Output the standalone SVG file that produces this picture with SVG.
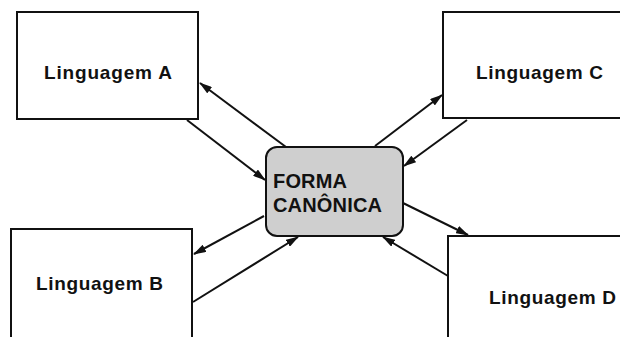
<svg xmlns="http://www.w3.org/2000/svg" width="620" height="337" viewBox="0 0 620 337">
  <style>
    .box { fill: #ffffff; stroke: #111111; stroke-width: 2; }
    .hub { fill: #cfcfcf; stroke: #111111; stroke-width: 2; }
    .lbl { font-family: "Liberation Sans", Arial, sans-serif; font-weight: bold; font-size: 19px; fill: #111111; }
    .hubtxt { font-family: "Liberation Sans", Arial, sans-serif; font-weight: bold; font-size: 20px; fill: #111111; }
    .wire { stroke: #111111; stroke-width: 2; fill: none; marker-end: url(#head); }
  </style>
  <defs>
    <marker id="head" viewBox="0 0 13 8" refX="12" refY="4" markerWidth="13" markerHeight="8" markerUnits="userSpaceOnUse" orient="auto">
      <path d="M0,0 L13,4 L0,8 Z" fill="#111111"/>
    </marker>
  </defs>
  <rect width="620" height="337" fill="#ffffff"/>

  <g id="connectors">
    <!-- A -->
    <line class="wire" x1="286" y1="147" x2="200" y2="83"/>
    <line class="wire" x1="187" y1="120" x2="265" y2="180"/>
    <!-- C -->
    <line class="wire" x1="375" y1="146" x2="442" y2="95"/>
    <line class="wire" x1="467" y1="120" x2="404" y2="166"/>
    <!-- B -->
    <line class="wire" x1="264" y1="216" x2="194" y2="254"/>
    <line class="wire" x1="193" y1="302" x2="298" y2="237"/>
    <!-- D -->
    <line class="wire" x1="403" y1="203" x2="468" y2="235"/>
    <line class="wire" x1="448" y1="276" x2="383" y2="237"/>
  </g>

  <g id="lang-a">
    <rect class="box" x="17" y="12" width="181" height="107"/>
    <text class="lbl" x="44" y="79" textLength="128" lengthAdjust="spacing">Linguagem A</text>
  </g>
  <g id="lang-c">
    <rect class="box" x="443" y="12" width="190" height="106"/>
    <text class="lbl" x="476" y="79" textLength="127" lengthAdjust="spacing">Linguagem C</text>
  </g>
  <g id="lang-b">
    <rect class="box" x="11" y="229" width="181" height="120"/>
    <text class="lbl" x="36" y="290" textLength="127" lengthAdjust="spacing">Linguagem B</text>
  </g>
  <g id="lang-d">
    <rect class="box" x="448" y="236" width="190" height="120"/>
    <text class="lbl" x="489" y="304" textLength="127" lengthAdjust="spacing">Linguagem D</text>
  </g>
  <g id="forma-canonica">
    <rect class="hub" x="266" y="147" width="137" height="89" rx="11" ry="11"/>
    <text class="hubtxt" x="273" y="188" textLength="74" lengthAdjust="spacing">FORMA</text>
    <text class="hubtxt" x="273" y="212" textLength="109" lengthAdjust="spacing">CANÔNICA</text>
  </g>
</svg>
